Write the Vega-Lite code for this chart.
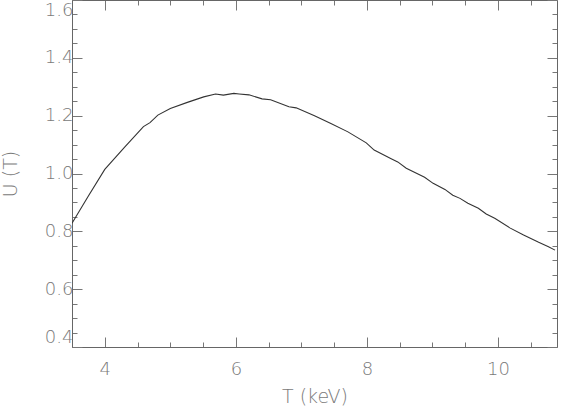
{
  "$schema": "https://vega.github.io/schema/vega-lite/v6.json",
  "width": 485,
  "height": 347,
  "autosize": "none",
  "padding": {"left": 72, "top": 0, "right": 5, "bottom": 60},
  "background": "white",
  "view": {"stroke": null},
  "data": {
    "values": [
      {"T": 3.5, "U": 0.828},
      {"T": 3.75, "U": 0.922},
      {"T": 4.0, "U": 1.014},
      {"T": 4.3, "U": 1.09},
      {"T": 4.59, "U": 1.162},
      {"T": 4.69, "U": 1.176},
      {"T": 4.81, "U": 1.202},
      {"T": 5.0, "U": 1.225},
      {"T": 5.26, "U": 1.246},
      {"T": 5.51, "U": 1.265},
      {"T": 5.69, "U": 1.275},
      {"T": 5.81, "U": 1.271},
      {"T": 5.97, "U": 1.277},
      {"T": 6.05, "U": 1.275},
      {"T": 6.2, "U": 1.272},
      {"T": 6.4, "U": 1.258},
      {"T": 6.53, "U": 1.255},
      {"T": 6.81, "U": 1.231},
      {"T": 6.92, "U": 1.227},
      {"T": 7.2, "U": 1.2},
      {"T": 7.45, "U": 1.173},
      {"T": 7.71, "U": 1.144},
      {"T": 7.99, "U": 1.106},
      {"T": 8.11, "U": 1.081},
      {"T": 8.37, "U": 1.051},
      {"T": 8.47, "U": 1.04},
      {"T": 8.6, "U": 1.018},
      {"T": 8.88, "U": 0.987},
      {"T": 9.01, "U": 0.966},
      {"T": 9.19, "U": 0.945},
      {"T": 9.31, "U": 0.925},
      {"T": 9.42, "U": 0.914},
      {"T": 9.54, "U": 0.897},
      {"T": 9.7, "U": 0.88},
      {"T": 9.82, "U": 0.86},
      {"T": 9.95, "U": 0.845},
      {"T": 10.18, "U": 0.812},
      {"T": 10.39, "U": 0.787},
      {"T": 10.62, "U": 0.762},
      {"T": 10.77, "U": 0.747},
      {"T": 10.87, "U": 0.735}
    ]
  },
  "resolve": {"axis": {"x": "independent", "y": "independent"}},
  "layer": [
    {
      "mark": {"type": "line", "color": "#333333", "strokeWidth": 1.1, "clip": true},
      "encoding": {
        "x": {
          "field": "T", "type": "quantitative",
          "scale": {"domain": [3.5, 10.9], "nice": false, "zero": false},
          "axis": {
            "orient": "bottom",
            "title": "T (keV)",
            "values": [3.5, 4, 4.5, 5, 5.5, 6, 6.5, 7, 7.5, 8, 8.5, 9, 9.5, 10, 10.5],
            "labelExpr": "datum.value % 2 === 0 ? format(datum.value, 'd') : ''",
            "labelOverlap": false,
            "labelFlush": false,
            "grid": false,
            "domainColor": "#666666",
            "tickColor": "#777777",
            "tickSize": {"condition": {"test": "datum.value % 2 === 0", "value": -10}, "value": -5},
            "labelPadding": 23,
            "labelFont": "DejaVu Sans",
            "labelFontWeight": 200,
            "labelFontSize": 18,
            "labelColor": "#7a7a7a",
            "titleFont": "DejaVu Sans",
            "titleFontWeight": 200,
            "titleFontSize": 19,
            "titleColor": "#7a7a7a",
            "titlePadding": 4
          }
        },
        "y": {
          "field": "U", "type": "quantitative",
          "scale": {"domain": [0.4, 1.6], "nice": false, "zero": false},
          "axis": {
            "orient": "left",
            "title": "U (T)",
            "values": [0.4, 0.45, 0.5, 0.55, 0.6, 0.65, 0.7, 0.75, 0.8, 0.85, 0.9, 0.95, 1.0, 1.05, 1.1, 1.15, 1.2, 1.25, 1.3, 1.35, 1.4, 1.45, 1.5, 1.55, 1.6],
            "labelExpr": "abs(datum.value * 5 - round(datum.value * 5)) < 0.001 ? format(datum.value, '.1f') : ''",
            "labelOverlap": false,
            "labelFlush": true,
            "labelFlushOffset": -1,
            "grid": false,
            "domainColor": "#666666",
            "tickColor": "#777777",
            "tickSize": {"condition": {"test": "abs(datum.value * 5 - round(datum.value * 5)) < 0.001", "value": -10}, "value": -5},
            "labelPadding": 9,
            "labelFont": "DejaVu Sans",
            "labelFontWeight": 200,
            "labelFontSize": 18,
            "labelColor": "#7a7a7a",
            "titleFont": "DejaVu Sans",
            "titleFontWeight": 200,
            "titleFontSize": 19,
            "titleColor": "#7a7a7a",
            "titlePadding": 24
          }
        }
      }
    },
    {
      "mark": {"type": "line", "strokeOpacity": 0},
      "encoding": {
        "x": {
          "field": "T", "type": "quantitative",
          "axis": {
            "orient": "top",
            "title": null,
            "values": [3.5, 4, 4.5, 5, 5.5, 6, 6.5, 7, 7.5, 8, 8.5, 9, 9.5, 10, 10.5],
            "labels": false,
            "grid": false,
            "domainColor": "#666666",
            "tickColor": "#777777",
            "tickSize": {"condition": {"test": "datum.value % 2 === 0", "value": -10}, "value": -5}
          }
        },
        "y": {
          "field": "U", "type": "quantitative",
          "axis": {
            "orient": "right",
            "title": null,
            "values": [0.4, 0.45, 0.5, 0.55, 0.6, 0.65, 0.7, 0.75, 0.8, 0.85, 0.9, 0.95, 1.0, 1.05, 1.1, 1.15, 1.2, 1.25, 1.3, 1.35, 1.4, 1.45, 1.5, 1.55, 1.6],
            "labels": false,
            "grid": false,
            "domainColor": "#666666",
            "tickColor": "#777777",
            "tickSize": {"condition": {"test": "abs(datum.value * 5 - round(datum.value * 5)) < 0.001", "value": -10}, "value": -5}
          }
        }
      }
    }
  ]
}
